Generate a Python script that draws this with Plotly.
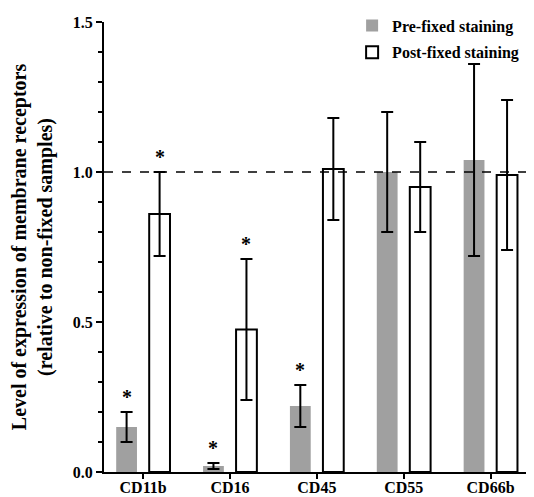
import plotly.graph_objects as go

categories = ["CD11b", "CD16", "CD45", "CD55", "CD66b"]
pre_values = [0.15, 0.02, 0.22, 1.00, 1.04]
pre_errors = [0.05, 0.01, 0.07, 0.20, 0.32]
post_values = [0.86, 0.475, 1.01, 0.95, 0.99]
post_errors = [0.14, 0.235, 0.17, 0.15, 0.25]
pre_signif = [True, True, True, False, False]
post_signif = [True, True, False, False, False]
series_names = ["Pre-fixed staining", "Post-fixed staining"]
y_title = "Level of expression of membrane receptors<br>(relative to non-fixed samples)"

FONT = "Liberation Serif, Times New Roman, serif"
# page body has an 8px default margin, so the figure is drawn 8px in from the corner
W, H = 526, 489
ML, MR, MT, MB = 96, 0, 14, 25
BARGAP = 0.24
BARGROUPGAP = 0.37
X_RANGE = [-0.45, 4.5]

fig = go.Figure()
fig.add_trace(go.Bar(
    x=categories, y=pre_values, name=series_names[0], legendgroup="a",
    marker=dict(color="#a0a0a0", line=dict(width=0)),
    error_y=dict(type="data", array=pre_errors, color="black", thickness=2, width=6),
))
fig.add_trace(go.Bar(
    x=categories, y=post_values, name=series_names[1], legendgroup="b",
    marker=dict(color="white", line=dict(color="black", width=2)),
    error_y=dict(type="data", array=post_errors, color="black", thickness=2, width=6),
))

# significance stars placed above error bars
px_per_unit = (W - ML - MR) / (X_RANGE[1] - X_RANGE[0])
slot = (1 - BARGAP) / 2
shift = slot / 2 * px_per_unit
for vals, errs, sig, sgn in [(pre_values, pre_errors, pre_signif, -1),
                             (post_values, post_errors, post_signif, 1)]:
    for c, v, e, s in zip(categories, vals, errs, sig):
        if s:
            fig.add_annotation(x=c, y=v + e, text="<b>*</b>", showarrow=False,
                               xshift=sgn * shift, yshift=2, yanchor="bottom",
                               font=dict(family=FONT, size=20, color="black"))

fig.add_shape(type="line", xref="paper", x0=0, x1=1, yref="y", y0=1, y1=1,
              line=dict(color="black", width=1.5, dash="dash"))

fig.update_layout(
    width=W, height=H,
    margin=dict(l=ML, r=MR, t=MT, b=MB),
    paper_bgcolor="white", plot_bgcolor="white",
    barmode="group", bargap=BARGAP, bargroupgap=BARGROUPGAP,
    font=dict(family=FONT, color="black", size=16),
    legend=dict(x=0.577, y=1.03, xanchor="left", yanchor="top",
                font=dict(family=FONT, size=16, color="black"),
                bgcolor="rgba(0,0,0,0)", tracegroupgap=3),
    xaxis=dict(range=X_RANGE, showline=True, linecolor="black", linewidth=2,
               ticks="outside", ticklen=5, tickwidth=2, tickcolor="black",
               showgrid=False, zeroline=False, ticklabelstandoff=-5,
               tickvals=categories, ticktext=[f"<b>{c}</b>" for c in categories],
               tickfont=dict(family=FONT, size=16), automargin=False),
    yaxis=dict(range=[0, 1.5], showline=True, linecolor="black", linewidth=2,
               ticks="outside", ticklen=6, tickwidth=2, tickcolor="black",
               tickvals=[0, 0.5, 1.0, 1.5],
               ticktext=[f"<b>{v:.1f}</b>" for v in [0, 0.5, 1.0, 1.5]],
               minor=dict(dtick=0.1, ticks="outside", ticklen=4, tickwidth=1.5, tickcolor="black"),
               showgrid=False, zeroline=False,
               tickfont=dict(family=FONT, size=16),
               title=dict(text=f"<b>{y_title}</b>".replace("<br>", "</b><br><b>"), standoff=22,
                          font=dict(family=FONT, size=20)),
               automargin=False),
)
for tr in fig.data:
    tr.name = f"<b>{tr.name}</b>"

fig.write_html("out.html")
